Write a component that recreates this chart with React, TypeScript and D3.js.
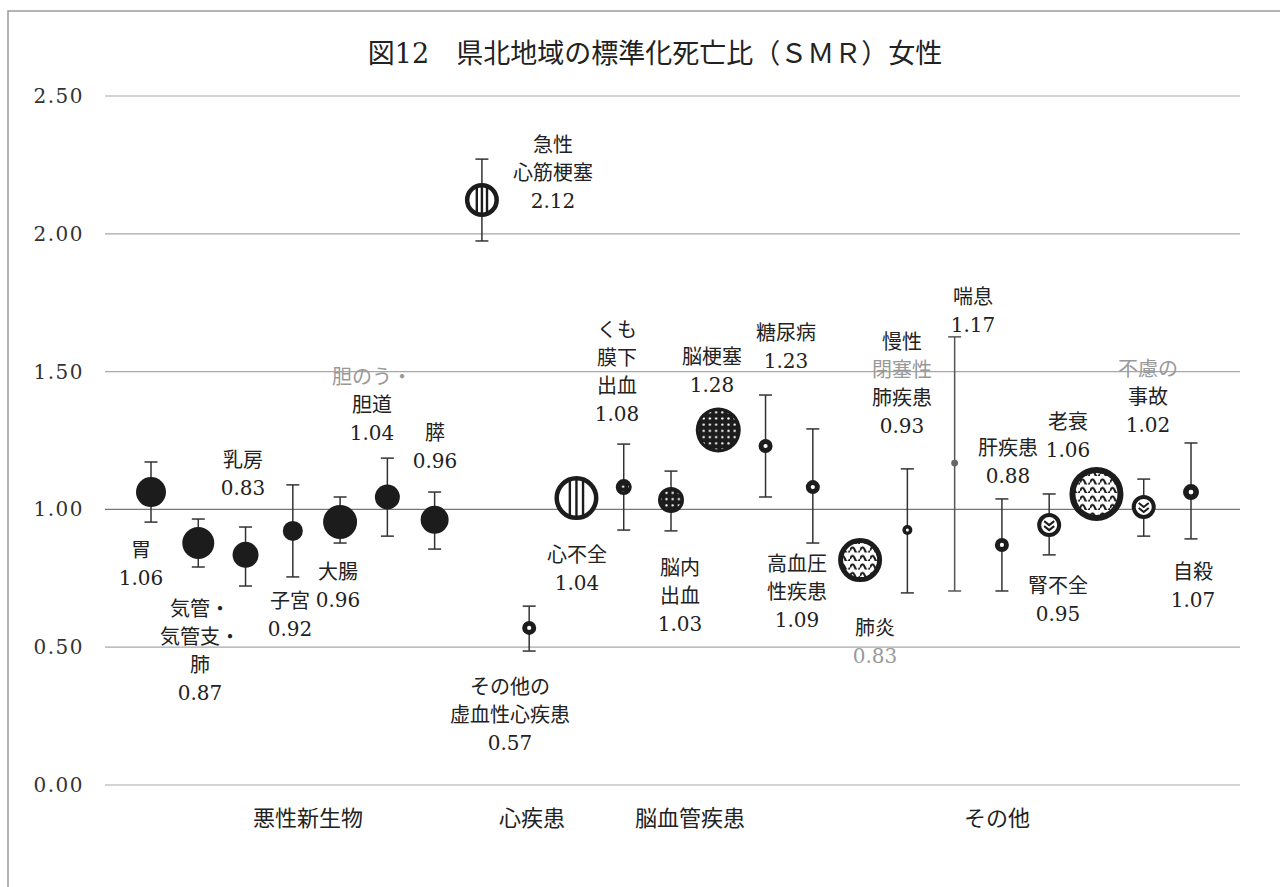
import React from "react";
import * as d3 from "d3";

// ---- data ----
const categories = [
  "胃", "気管・気管支・肺", "乳房", "子宮", "大腸", "胆のう・胆道", "膵",
  "急性心筋梗塞", "その他の虚血性心疾患", "心不全",
  "くも膜下出血", "脳内出血", "脳梗塞",
  "糖尿病", "高血圧性疾患", "肺炎", "慢性閉塞性肺疾患", "喘息", "肝疾患", "腎不全", "老衰", "不慮の事故", "自殺",
];
const smrValues = [1.063, 0.878, 0.835, 0.922, 0.954, 1.045, 0.962, 2.123, 0.57, 1.041, 1.081, 1.034, 1.288, 1.23, 1.081, 0.816, 0.925, 1.168, 0.871, 0.943, 1.056, 1.009, 1.063];
const ciLower: (number | null)[] = [0.954, 0.791, 0.722, 0.755, 0.878, 0.903, 0.856, 1.974, 0.486, null, 0.925, 0.922, null, 1.045, 0.878, null, 0.697, 0.704, 0.704, 0.835, null, 0.903, 0.893];
const ciUpper: (number | null)[] = [1.172, 0.965, 0.936, 1.089, 1.045, 1.186, 1.063, 2.271, 0.649, null, 1.237, 1.139, null, 1.415, 1.292, null, 1.147, 1.626, 1.038, 1.056, null, 1.11, 1.241];
const bubbleArea = [225, 256, 169, 100, 289, 156, 196, 289, 49, 484, 64, 169, 506, 49, 49, 484, 25, 12, 49, 144, 729, 144, 64];
const markerKind = [
  "solid", "solid", "solid", "solid", "solid", "solid", "solid",
  "stripe", "ring", "stripe",
  "dots", "dots", "dots",
  "ring", "ring", "wave", "ring", "tiny", "ring", "chevron", "wave", "chevron", "ring",
];
const labelTexts: string[][] = [
  ["胃", "1.06"], ["気管・", "気管支・", "肺", "0.87"], ["乳房", "0.83"], ["子宮", "0.92"], ["大腸", "0.96"],
  ["胆のう・", "胆道", "1.04"], ["膵", "0.96"],
  ["急性", "心筋梗塞", "2.12"], ["その他の", "虚血性心疾患", "0.57"], ["心不全", "1.04"],
  ["くも", "膜下", "出血", "1.08"], ["脳内", "出血", "1.03"], ["脳梗塞", "1.28"],
  ["糖尿病", "1.23"], ["高血圧", "性疾患", "1.09"], ["肺炎", "0.83"], ["慢性", "閉塞性", "肺疾患", "0.93"],
  ["喘息", "1.17"], ["肝疾患", "0.88"], ["腎不全", "0.95"], ["老衰", "1.06"], ["不慮の", "事故", "1.02"], ["自殺", "1.07"],
];
const yTicks = [0, 0.5, 1, 1.5, 2, 2.5];
const tickLabels = ["0.00", "0.50", "1.00", "1.50", "2.00", "2.50"];
const groupNames = ["悪性新生物", "心疾患", "脳血管疾患", "その他"];
const titleText = "図12　県北地域の標準化死亡比（ＳＭＲ）女性";

// ---- layout (text positions) ----
const labelPos: { x: number; y: number; gray?: number }[] = [
  { x: 141, y: 550 }, { x: 200, y: 609 }, { x: 243, y: 460 }, { x: 290, y: 601 }, { x: 338, y: 572 },
  { x: 372, y: 377, gray: 0 }, { x: 435, y: 433 },
  { x: 553, y: 145 }, { x: 510, y: 687 }, { x: 577, y: 555 },
  { x: 617, y: 330 }, { x: 680, y: 568 }, { x: 712, y: 357 },
  { x: 786, y: 333 }, { x: 797, y: 564 }, { x: 875, y: 628, gray: 1 }, { x: 902, y: 342, gray: 1 },
  { x: 973, y: 297 }, { x: 1008, y: 448 }, { x: 1058, y: 586 }, { x: 1068, y: 422 }, { x: 1148, y: 369, gray: 0 }, { x: 1193, y: 572 },
];
const groupX = [308, 532, 690, 997];

const W = 1283, H = 887;
const INK = "#1c1c1c";
const FONT = "'DejaVu Serif', 'Noto Sans CJK JP', serif";

export default function App() {
  const x = d3.scalePoint<string>().domain(categories).range([151, 1191]);
  const y = d3.scaleLinear().domain([0, 2.5]).range([785, 96]);
  const r = d3.scaleSqrt().domain([0, 729]).range([0, 27]);

  const marker = (i: number) => {
    const cx = x(categories[i]) as number;
    const cy = y(smrValues[i]);
    const rr = r(bubbleArea[i]);
    const kind = markerKind[i];
    if (kind === "solid") return <circle cx={cx} cy={cy} r={rr} fill={INK} />;
    if (kind === "tiny") return <circle cx={cx} cy={cy} r={rr} fill="#666" />;
    if (kind === "ring")
      return (
        <g>
          <circle cx={cx} cy={cy} r={rr} fill={INK} />
          <circle cx={cx} cy={cy} r={rr * 0.3} fill="#fff" />
        </g>
      );
    if (kind === "dots")
      return (
        <g>
          <circle cx={cx} cy={cy} r={rr} fill={INK} />
          <circle cx={cx} cy={cy} r={Math.max(rr - 3, 0)} fill="url(#dotPat)" />
        </g>
      );
    if (kind === "stripe") {
      const sw = 4.5;
      const inner = rr - sw / 2;
      const sp = rr * 0.3;
      return (
        <g>
          <circle cx={cx} cy={cy} r={rr - sw / 2} fill="#fff" />
          {[-1, 0, 1].map((k) => {
            const dx = k * sp;
            const h = Math.sqrt(inner * inner - dx * dx);
            return <line key={k} x1={cx + dx} x2={cx + dx} y1={cy - h} y2={cy + h} stroke={INK} strokeWidth={2.4} />;
          })}
          <circle cx={cx} cy={cy} r={rr - sw / 2} fill="none" stroke={INK} strokeWidth={sw} />
        </g>
      );
    }
    if (kind === "wave") {
      const sw = rr > 24 ? 6 : 5;
      return (
        <g>
          <circle cx={cx} cy={cy} r={rr - sw / 2} fill="#fff" />
          <circle cx={cx} cy={cy} r={rr - sw / 2} fill="url(#wavePat)" />
          <circle cx={cx} cy={cy} r={rr - sw / 2} fill="none" stroke={INK} strokeWidth={sw} />
        </g>
      );
    }
    // chevron
    const sw = 4;
    return (
      <g>
        <circle cx={cx} cy={cy} r={rr - sw / 2} fill="#fff" stroke={INK} strokeWidth={sw} />
        <path d={`M${cx - 5},${cy - 4} L${cx},${cy} L${cx + 5},${cy - 4}`} fill="none" stroke={INK} strokeWidth={2} />
        <path d={`M${cx - 5},${cy + 1} L${cx},${cy + 5} L${cx + 5},${cy + 1}`} fill="none" stroke={INK} strokeWidth={2} />
      </g>
    );
  };

  return (
    <svg width={W} height={H} style={{ position: "absolute", left: 0, top: 0, background: "#fff" }}>
      <defs>
        <pattern id="dotPat" patternUnits="userSpaceOnUse" width={6.2} height={6.2}>
          <rect width={6.2} height={6.2} fill={INK} />
          <circle cx={3.1} cy={3.1} r={1.2} fill="#fff" />
        </pattern>
        <pattern id="wavePat" patternUnits="userSpaceOnUse" width={10} height={8.5}>
          <path d="M0,6.5 Q2.5,0.5 5,6.5 T10,6.5" fill="none" stroke={INK} strokeWidth={2.2} />
        </pattern>
      </defs>
      <rect x={0} y={0} width={W} height={H} fill="#fff" />
      {/* frame */}
      <path d={`M8,${H} L8,11 L1280,11`} fill="none" stroke="#9a9a9a" strokeWidth={1.5} />

      {/* title */}
      <text x={655} y={53} textAnchor="middle" dominantBaseline="central" fontFamily={FONT} fontSize={27} fill="#222">
        {titleText}
      </text>

      {/* grid */}
      {yTicks.map((t, i) => (
        <g key={t}>
          <line x1={105} x2={1240} y1={y(t)} y2={y(t)} stroke={t === 1 ? "#777" : "#a8a8a8"} strokeWidth={t === 1 ? 1.4 : 1.2} />
          <text x={84} y={y(t)} textAnchor="end" dominantBaseline="central" fontFamily={FONT} fontSize={20} letterSpacing={1.5} fill="#333">
            {tickLabels[i]}
          </text>
        </g>
      ))}

      {/* error bars */}
      {categories.map((c, i) => {
        const lo = ciLower[i], hi = ciUpper[i];
        if (lo == null || hi == null) return null;
        const cx = x(c) as number;
        const col = markerKind[i] === "tiny" ? "#555" : "#333";
        return (
          <g key={"e" + c} stroke={col} strokeWidth={1.5}>
            <line x1={cx} x2={cx} y1={y(lo)} y2={y(hi)} />
            <line x1={cx - 6.5} x2={cx + 6.5} y1={y(lo)} y2={y(lo)} />
            <line x1={cx - 6.5} x2={cx + 6.5} y1={y(hi)} y2={y(hi)} />
          </g>
        );
      })}

      {/* markers */}
      {categories.map((c, i) => (
        <g key={"m" + c}>{marker(i)}</g>
      ))}

      {/* labels */}
      {labelTexts.map((lines, i) => (
        <text key={"l" + i} fontFamily={FONT} fontSize={20} textAnchor="middle" dominantBaseline="central">
          {lines.map((ln, k) => (
            <tspan key={k} x={labelPos[i].x} y={labelPos[i].y + k * 28} fill={labelPos[i].gray === k ? "#999" : "#222"}>
              {ln}
            </tspan>
          ))}
        </text>
      ))}

      {/* group labels */}
      {groupNames.map((g, i) => (
        <text key={g} x={groupX[i]} y={818} textAnchor="middle" dominantBaseline="central" fontFamily={FONT} fontSize={22} fill="#222">
          {g}
        </text>
      ))}
    </svg>
  );
}
